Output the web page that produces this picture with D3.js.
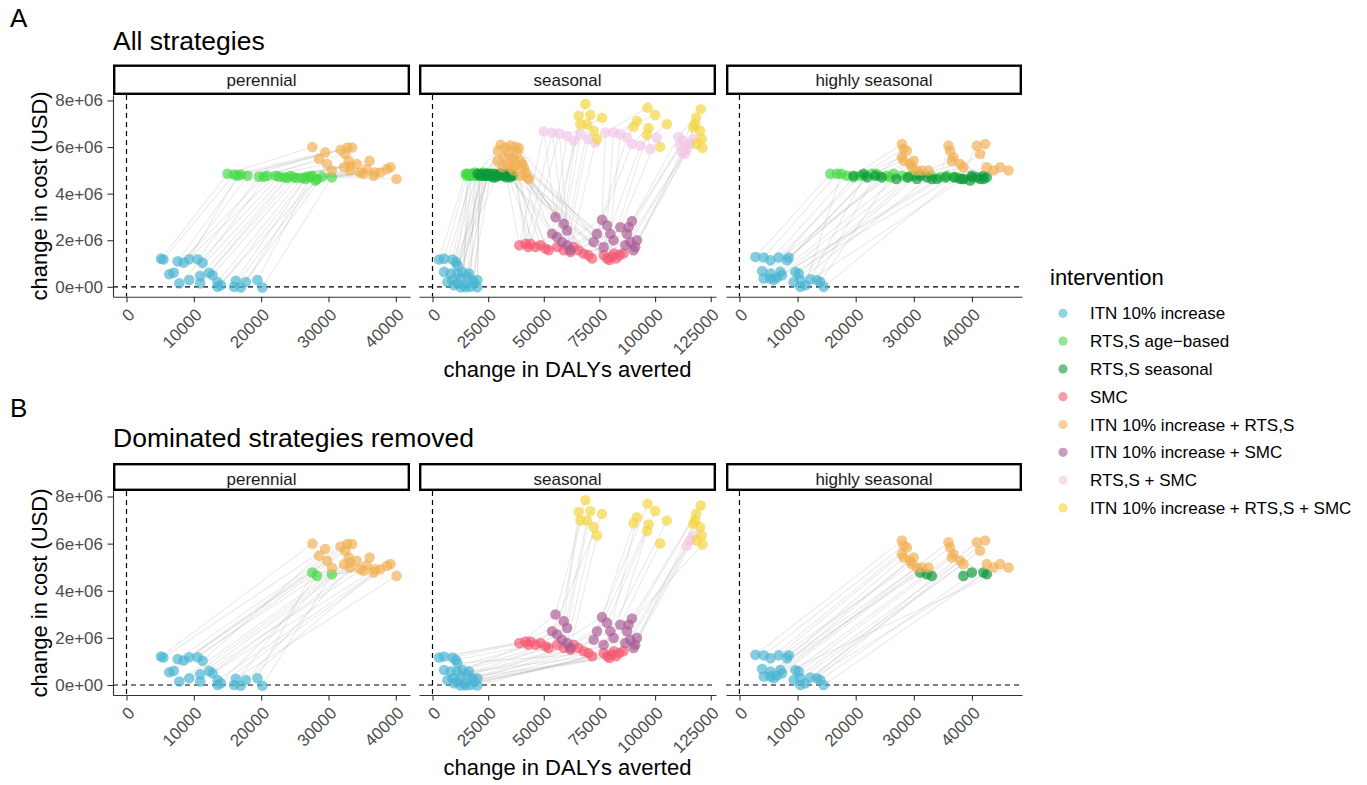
<!DOCTYPE html>
<html>
<head>
<meta charset="utf-8">
<script src="https://cdn.jsdelivr.net/npm/d3@7"></script>
<style>
  body { margin: 0; background: #fff; }
  text { font-family: "Liberation Sans", Arial, sans-serif; }
</style>
</head>
<body>
<svg id="chart" width="1367" height="785"></svg>
<script>
// legend order
const interventions = ["ITN 10% increase", "RTS,S age\u2212based", "RTS,S seasonal", "SMC",
  "ITN 10% increase + RTS,S", "ITN 10% increase + SMC", "RTS,S + SMC", "ITN 10% increase + RTS,S + SMC"];
const colours = ["#49B4D2", "#45D845", "#0E9A3A", "#F55871", "#F2AF53", "#AA5A93", "#F2C6E8", "#F3D43C"];

const facets = ["perennial", "seasonal", "highly seasonal"];
const xTicks = [[0, 10000, 20000, 30000, 40000], [0, 25000, 50000, 75000, 100000, 125000], [0, 10000, 20000, 30000, 40000]];
const yTicks = [0, 2e6, 4e6, 6e6, 8e6];
const yTickLabels = ["0e+00", "2e+06", "4e+06", "6e+06", "8e+06"];

// [DALYs averted, cost USD] per site, same site order within a facet
const perITN = [[5130,1.21e6],[5480,1.17e6],[7600,1.10e6],[8490,1.04e6],[9320,1.18e6],[10560,1.18e6],[11300,1.03e6],[6360,0.54e6],[7010,0.60e6],[7840,0.15e6],[9320,0.29e6],[10950,0.46e6],[10950,0.15e6],[12280,0.60e6],[12780,0.50e6],[13520,0.21e6],[14010,0.07e6],[16230,0.26e6],[17710,0.21e6],[19440,0.29e6],[15980,0.0],[16970,-0.03e6],[20180,-0.03e6],[13520,0.0]];
const perAge = [[15000,4.85e6],[15980,4.82e6],[16970,4.82e6],[17960,4.77e6],[16480,4.77e6],[19680,4.73e6],[20920,4.77e6],[20410,4.73e6],[22150,4.77e6],[22630,4.73e6],[23380,4.70e6],[23870,4.67e6],[24360,4.77e6],[24850,4.70e6],[25350,4.67e6],[26090,4.67e6],[26580,4.63e6],[26830,4.73e6],[27320,4.70e6],[27600,4.77e6],[28300,4.63e6],[29050,4.73e6],[30500,4.70e6],[28060,4.56e6]];
const perItnRts = [[27600,6.00e6],[29500,5.77e6],[31800,5.88e6],[32800,5.98e6],[33500,5.98e6],[32500,5.70e6],[28600,5.49e6],[29800,5.27e6],[30500,4.99e6],[32300,5.13e6],[33200,5.20e6],[34200,5.27e6],[36100,5.41e6],[35700,5.06e6],[36900,4.91e6],[37700,4.91e6],[39200,5.13e6],[40100,4.63e6],[33200,4.99e6],[34700,4.91e6],[35200,4.85e6],[36700,4.77e6],[38700,5.06e6],[33000,5.41e6]];

const seaITN = [[2960,1.17e6],[5200,1.21e6],[8960,1.17e6],[10440,1.07e6],[5200,0.64e6],[8200,0.57e6],[11200,0.57e6],[13440,0.64e6],[8960,0.29e6],[12680,0.36e6],[15680,0.43e6],[17920,0.29e6],[20160,0.29e6],[11200,0.15e6],[14160,0.07e6],[17160,0.0],[20160,-0.02e6],[9680,0.07e6],[6720,0.21e6],[12680,-0.02e6],[14920,-0.02e6],[18640,0.15e6],[16400,0.57e6],[11200,0.93e6]];
const seaAge = [[14900,4.85e6],[15800,4.85e6],[16700,4.77e6],[17200,4.85e6],[18100,4.85e6],[19400,4.77e6],[20200,4.85e6],[21600,4.85e6],[22400,4.77e6],[23900,4.85e6],[24600,4.77e6],[26100,4.85e6],[27000,4.77e6],[28400,4.77e6],[15400,4.77e6],[19000,4.91e6],[21000,4.77e6],[23000,4.85e6],[25500,4.77e6],[17600,4.77e6],[20600,4.85e6],[22800,4.91e6],[26800,4.85e6],[29000,4.77e6]];
const seaSeas = [[20200,4.85e6],[22000,4.85e6],[23500,4.77e6],[24600,4.85e6],[26000,4.77e6],[27500,4.85e6],[29100,4.77e6],[30500,4.85e6],[32100,4.77e6],[33400,4.85e6],[34300,4.77e6],[35800,4.77e6],[21200,4.77e6],[25200,4.85e6],[28300,4.70e6],[31200,4.77e6],[33000,4.70e6],[35000,4.85e6],[29800,4.85e6],[27000,4.70e6],[31800,4.85e6],[34800,4.70e6],[24000,4.77e6],[36000,4.77e6]];
const seaItnRts = [[30600,6.10e6],[35080,6.06e6],[37320,6.01e6],[29390,5.84e6],[34320,5.77e6],[38080,5.77e6],[32080,5.56e6],[35840,5.53e6],[39560,5.41e6],[29120,5.41e6],[33600,5.27e6],[37320,5.20e6],[41040,5.13e6],[41800,4.91e6],[42560,4.70e6],[39560,4.77e6],[36560,4.99e6],[43280,4.63e6],[31360,5.13e6],[38800,5.96e6],[35080,5.13e6],[40320,5.27e6],[32840,5.98e6],[36560,5.41e6]];
const seaSmc = [[39000,1.78e6],[41800,1.85e6],[44040,1.85e6],[46280,1.71e6],[48520,1.78e6],[50760,1.64e6],[52240,1.57e6],[43000,1.71e6],
  [56000,1.71e6],[58960,1.57e6],[61960,1.50e6],[63440,1.71e6],[65500,1.57e6],[67900,1.43e6],[70000,1.36e6],[71700,1.22e6],
  [76900,1.36e6],[78500,1.22e6],[79500,1.15e6],[80500,1.29e6],[81500,1.43e6],[82500,1.22e6],[84000,1.36e6],[85800,1.43e6]];
const seaItnSmc = [[55240,2.99e6],[58960,2.71e6],[60480,2.42e6],[53760,2.28e6],[56000,2.14e6],[58240,1.92e6],[60480,1.78e6],[61960,1.57e6],
  [76160,2.88e6],[78400,2.64e6],[79880,2.28e6],[73920,2.28e6],[72400,1.92e6],[76880,1.71e6],[81360,2.00e6],[84360,2.56e6],
  [89600,2.82e6],[87360,2.28e6],[88840,1.92e6],[91080,1.71e6],[86600,1.78e6],[91840,2.00e6],[88080,2.56e6],[90320,1.57e6]];
const seaRtsSmc = [[50000,6.67e6],[53760,6.62e6],[57000,6.58e6],[60500,6.48e6],[63440,6.27e6],[66500,6.55e6],[70000,6.34e6],[73160,6.20e6],
  [77640,6.62e6],[81360,6.62e6],[84360,6.55e6],[87360,6.41e6],[89600,6.13e6],[93320,6.06e6],[97800,5.91e6],[100800,6.41e6],
  [110480,6.44e6],[112720,6.27e6],[114240,5.91e6],[112000,5.77e6],[115720,6.13e6],[117200,6.34e6],[111240,6.06e6],[113480,5.70e6]];
const seaAll = [[68680,7.84e6],[65680,7.34e6],[70920,7.38e6],[76160,7.26e6],[66440,6.98e6],[69440,6.98e6],[72400,6.70e6],[73920,6.34e6],
  [96600,7.69e6],[100040,7.38e6],[91840,7.12e6],[90320,6.87e6],[97040,6.81e6],[105280,6.98e6],[96320,6.53e6],[102280,6.01e6],
  [120500,7.62e6],[118400,7.26e6],[117960,6.98e6],[120200,6.70e6],[120960,6.34e6],[118720,6.13e6],[121300,5.96e6],[117200,6.84e6]];

const hsITN = [[2750,1.28e6],[4180,1.26e6],[5330,1.14e6],[6760,1.26e6],[8190,1.14e6],[8480,1.26e6],[3890,0.68e6],[5330,0.57e6],[7050,0.64e6],[4180,0.36e6],[5330,0.36e6],[6470,0.40e6],[7330,0.50e6],[9620,0.64e6],[10200,0.57e6],[9330,0.21e6],[10480,0.29e6],[11340,0.07e6],[12200,0.32e6],[13350,0.29e6],[13920,0.21e6],[14490,0.0],[10480,0.0],[5900,0.29e6]];
const hsAge = [[15640,4.85e6],[16780,4.85e6],[18500,4.77e6],[20790,4.77e6],[22790,4.85e6],[25370,4.77e6],[26510,4.85e6],[27950,4.77e6],[28810,4.70e6],[19640,4.70e6],[24000,4.77e6],[34540,4.70e6],[35680,4.77e6],[36830,4.70e6],[30000,4.77e6],[31000,4.85e6],[33000,4.77e6],[17500,4.85e6],[21500,4.77e6],[23500,4.85e6],[26000,4.70e6],[37500,4.70e6],[38500,4.63e6],[29500,4.77e6]];
const hsSeas = [[19640,4.77e6],[21360,4.85e6],[23370,4.77e6],[30530,4.63e6],[31100,4.77e6],[32250,4.70e6],[33100,4.63e6],[24500,4.70e6],[27000,4.63e6],[29000,4.70e6],[22000,4.70e6],[38540,4.63e6],[39980,4.77e6],[41980,4.77e6],[42560,4.70e6],[40840,4.70e6],[39690,4.56e6],[38000,4.63e6],[35500,4.70e6],[41410,4.63e6],[34000,4.63e6],[40000,4.70e6],[42000,4.63e6],[37000,4.70e6]];
const hsItnRts = [[27950,6.13e6],[28240,5.91e6],[28810,5.84e6],[27950,5.56e6],[28240,5.41e6],[29380,5.27e6],[29670,5.13e6],[30530,4.99e6],[31390,4.99e6],[32530,4.99e6],[29960,5.41e6],[35970,6.06e6],[36250,5.84e6],[36830,5.56e6],[36540,5.41e6],[37970,5.27e6],[38540,5.13e6],[40840,6.06e6],[41410,5.70e6],[42270,6.13e6],[42560,5.13e6],[43700,4.99e6],[44850,5.13e6],[46300,4.99e6]];

// sites whose strategy survives in panel B (true = all sites, false = none)
const keepPerAge = [19, 20, 22];
const keepSeaRtsSmc = [18, 20, 21];
const keepHsSeas = [4, 5, 6, 11, 12, 13, 14];

const panelSeries = [
  [[0, perITN, true], [1, perAge, keepPerAge], [4, perItnRts, true]],
  [[0, seaITN, true], [1, seaAge, false], [2, seaSeas, false], [3, seaSmc, true], [4, seaItnRts, false],
   [5, seaItnSmc, true], [6, seaRtsSmc, keepSeaRtsSmc], [7, seaAll, true]],
  [[0, hsITN, true], [1, hsAge, false], [2, hsSeas, keepHsSeas], [4, hsItnRts, true]]
];

const svg = d3.select("#chart");
const panelX = [[113, 410], [419, 716], [726, 1022]];
const rows = [
  {tag: "A", title: "All strategies", tagY: 27, titleY: 49.5, stripTop: 64.5, top: 95, bottom: 296.7, dominated: false},
  {tag: "B", title: "Dominated strategies removed", tagY: 417, titleY: 446.5, stripTop: 463, top: 491, bottom: 695, dominated: true}
];
const tickLen = 5.5;

function pointsFor(p, dominated) {
  const pts = [];
  panelSeries[p].forEach(([iv, vals, keep]) => {
    vals.forEach((v, site) => {
      if (dominated && !(keep === true || (Array.isArray(keep) && keep.includes(site)))) return;
      pts.push({iv: iv, site: site, x: v[0], y: v[1]});
    });
  });
  return pts;
}

function expand(ext) {
  const pad = (ext[1] - ext[0]) * 0.05;
  return [ext[0] - pad, ext[1] + pad];
}

rows.forEach((row, r) => {
  const panelPts = facets.map((f, p) => pointsFor(p, row.dominated));
  const allY = panelPts.flat().map(d => d.y).concat([0]);
  const y = d3.scaleLinear().domain(expand(d3.extent(allY))).range([row.bottom, row.top]);

  svg.append("text").attr("x", 10).attr("y", row.tagY)
    .attr("font-size", 26).text(row.tag);
  svg.append("text").attr("x", 113).attr("y", row.titleY)
    .attr("font-size", 26.5).text(row.title);

  facets.forEach((facet, p) => {
    const [x0, x1] = panelX[p];
    const pts = panelPts[p];
    const x = d3.scaleLinear()
      .domain(expand(d3.extent(pts.map(d => d.x).concat([0]))))
      .range([x0, x1]);

    const clipId = `clip-${r}-${p}`;
    svg.append("clipPath").attr("id", clipId)
      .append("rect").attr("x", x0).attr("y", row.top)
      .attr("width", x1 - x0).attr("height", row.bottom - row.top);

    const g = svg.append("g").attr("clip-path", `url(#${clipId})`);

    // lines joining each site's strategies, in DALY order
    const line = d3.line().x(d => x(d.x)).y(d => y(d.y));
    const bySite = d3.groups(pts, d => d.site);
    g.append("g").selectAll("path")
      .data(bySite)
      .join("path")
      .attr("d", d => line(d[1].slice().sort((a, b) => a.x - b.x)))
      .attr("fill", "none")
      .attr("stroke", "#b5b5b5")
      .attr("stroke-opacity", 0.28)
      .attr("stroke-width", 1.1);

    // reference lines at zero
    g.append("line").attr("x1", x(0)).attr("x2", x(0))
      .attr("y1", row.top).attr("y2", row.bottom)
      .attr("stroke", "#000").attr("stroke-width", 1.2).attr("stroke-dasharray", "5,4");
    g.append("line").attr("x1", x0).attr("x2", x1)
      .attr("y1", y(0)).attr("y2", y(0))
      .attr("stroke", "#000").attr("stroke-width", 1.2).attr("stroke-dasharray", "5,4");

    g.append("g").selectAll("circle")
      .data(pts)
      .join("circle")
      .attr("cx", d => x(d.x))
      .attr("cy", d => y(d.y))
      .attr("r", 5.3)
      .attr("fill", d => colours[d.iv])
      .attr("fill-opacity", 0.68);

    // strip
    svg.append("rect")
      .attr("x", x0 + 1.2).attr("y", row.stripTop + 1.2)
      .attr("width", x1 - x0 - 2.4).attr("height", row.top - row.stripTop - 2.4)
      .attr("fill", "#fff").attr("stroke", "#000").attr("stroke-width", 2.4);
    svg.append("text")
      .attr("x", (x0 + x1) / 2).attr("y", row.stripTop + 21.5)
      .attr("text-anchor", "middle").attr("font-size", 17).attr("fill", "#1a1a1a")
      .text(facet);

    // x axis
    const xa = svg.append("g").attr("transform", `translate(0,${row.bottom})`)
      .call(d3.axisBottom(x).tickValues(xTicks[p]).tickFormat(d3.format("d"))
        .tickSize(tickLen).tickSizeOuter(0));
    xa.select(".domain").attr("stroke", "#333").attr("stroke-width", 1.1);
    xa.selectAll(".tick line").attr("stroke", "#333").attr("stroke-width", 1.1);
    xa.selectAll(".tick text")
      .attr("y", null).attr("dy", "0.72em")
      .attr("transform", "translate(0,10.5) rotate(-45)")
      .attr("text-anchor", "end")
      .attr("font-family", null).attr("font-size", 17).attr("fill", "#4d4d4d");

    if (p === 0) {
      const ya = svg.append("g").attr("transform", `translate(${x0},0)`)
        .call(d3.axisLeft(y).tickValues(yTicks).tickFormat((d, i) => yTickLabels[i])
          .tickSize(tickLen).tickSizeOuter(0));
      ya.select(".domain").attr("stroke", "#333").attr("stroke-width", 1.1);
      ya.selectAll(".tick line").attr("stroke", "#333").attr("stroke-width", 1.1);
      ya.selectAll(".tick text").attr("x", -(tickLen + 4.5))
        .attr("font-family", null).attr("font-size", 17).attr("fill", "#4d4d4d");
    }
  });

  svg.append("text")
    .attr("transform", `translate(47,${(row.top + row.bottom) / 2}) rotate(-90)`)
    .attr("text-anchor", "middle").attr("font-size", 22)
    .text("change in cost (USD)");
  svg.append("text")
    .attr("x", (panelX[0][0] + panelX[2][1]) / 2).attr("y", row.bottom + 80)
    .attr("text-anchor", "middle").attr("font-size", 22)
    .text("change in DALYs averted");
});

// legend
const legend = svg.append("g");
legend.append("text").attr("x", 1050).attr("y", 285).attr("font-size", 22).text("intervention");
const items = legend.selectAll("g.item")
  .data(interventions)
  .join("g")
  .attr("transform", (d, i) => `translate(0,${313.3 + i * 27.8})`);
items.append("circle").attr("cx", 1063).attr("cy", 0).attr("r", 4.6)
  .attr("fill", (d, i) => colours[i]).attr("fill-opacity", 0.6);
items.append("text").attr("x", 1090).attr("y", 6).attr("font-size", 17).text(d => d);
</script>
</body>
</html>
